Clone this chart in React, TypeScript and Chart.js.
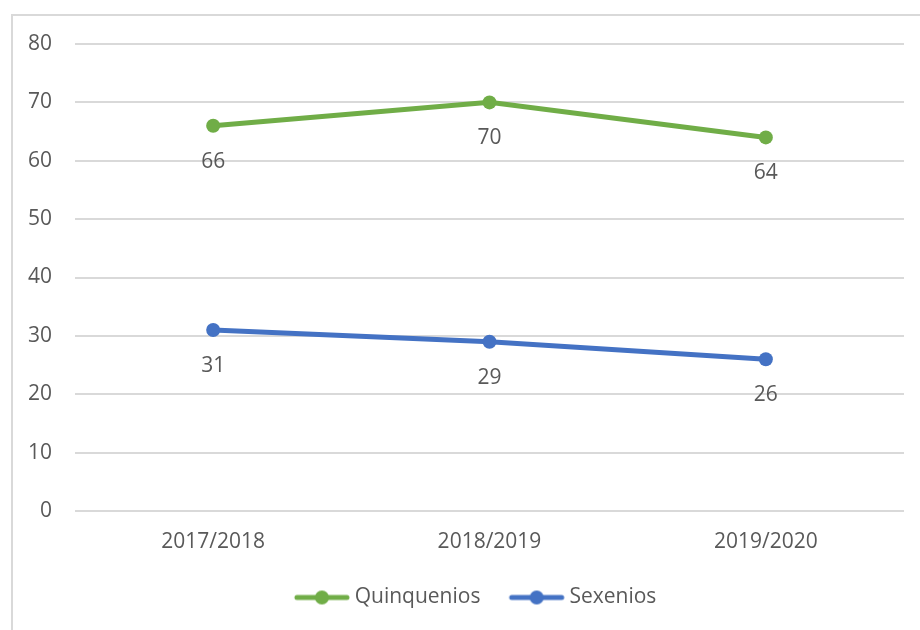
import React, { useEffect, useRef } from "react";
import { Chart, registerables } from "chart.js";

Chart.register(...registerables);

const categories = ["2017/2018", "2018/2019", "2019/2020"];
const quinquenios = [66, 70, 64];
const sexenios = [31, 29, 26];
const seriesNames = ["Quinquenios", "Sexenios"];
const yTicks = { min: 0, max: 80, step: 10 };

const GREEN = "#70AD47";
const BLUE = "#4472C4";
const TEXT = "#595959";
const GRID = "#D9D9D9";
const FONT = "'Open Sans', sans-serif";
const FS = 21;

function legendImage(color: string) {
  const c = document.createElement("canvas");
  c.width = 112;
  c.height = 16;
  const ctx = c.getContext("2d")!;
  ctx.strokeStyle = color;
  ctx.lineWidth = 5;
  ctx.lineCap = "round";
  ctx.beginPath();
  ctx.moveTo(43, 8);
  ctx.lineTo(93, 8);
  ctx.stroke();
  ctx.fillStyle = color;
  ctx.beginPath();
  ctx.arc(68, 8, 7, 0, Math.PI * 2);
  ctx.fill();
  return c;
}

const framePlugin = {
  id: "frame",
  beforeDraw(chart: any) {
    const ctx = chart.ctx;
    ctx.save();
    ctx.strokeStyle = GRID;
    ctx.lineWidth = 2;
    ctx.beginPath();
    ctx.moveTo(12, 640);
    ctx.lineTo(12, 15);
    ctx.lineTo(930, 15);
    ctx.stroke();
    ctx.restore();
  },
};

const legendShift = {
  id: "legendShift",
  afterLayout(chart: any) {
    if (chart.legend) {
      chart.legend.left += 4;
      chart.legend.right += 4;
    }
  },
};

const labelPlugin = {
  id: "valueLabels",
  afterDatasetsDraw(chart: any) {
    const ctx = chart.ctx;
    ctx.save();
    ctx.font = `${FS}px ${FONT}`;
    ctx.fillStyle = TEXT;
    ctx.textAlign = "center";
    ctx.textBaseline = "middle";
    chart.data.datasets.forEach((ds: any, i: number) => {
      const meta = chart.getDatasetMeta(i);
      meta.data.forEach((pt: any, j: number) => {
        ctx.fillText(String(ds.data[j]), pt.x, pt.y + 36);
      });
    });
    ctx.restore();
  },
};

export default function App() {
  const ref = useRef<HTMLCanvasElement>(null);
  useEffect(() => {
    const imgs = [legendImage(GREEN), legendImage(BLUE)];
    const chart = new Chart(ref.current!, {
      type: "line",
      data: {
        labels: categories,
        datasets: [
          {
            label: seriesNames[0],
            data: quinquenios,
            borderColor: GREEN,
            backgroundColor: GREEN,
            borderWidth: 5,
            pointRadius: 7,
            pointHoverRadius: 7,
            pointBackgroundColor: GREEN,
            pointBorderWidth: 0,
          },
          {
            label: seriesNames[1],
            data: sexenios,
            borderColor: BLUE,
            backgroundColor: BLUE,
            borderWidth: 5,
            pointRadius: 7,
            pointHoverRadius: 7,
            pointBackgroundColor: BLUE,
            pointBorderWidth: 0,
          },
        ],
      },
      options: {
        responsive: false,
        animation: false,
        layout: { padding: { left: 20, right: 16, top: 44, bottom: 12 } },
        scales: {
          x: {
            offset: true,
            grid: { display: false, drawTicks: false },
            border: { display: false },
            ticks: { color: TEXT, font: { family: FONT, size: FS }, padding: 18 },
            afterFit(scale: any) {
              scale.height = 66;
            },
          },
          y: {
            min: yTicks.min,
            max: yTicks.max,
            grid: { color: GRID, lineWidth: 2, drawTicks: false },
            border: { display: false },
            ticks: {
              stepSize: yTicks.step,
              color: TEXT,
              font: { family: FONT, size: FS },
              padding: 23,
            },
            afterFit(scale: any) {
              scale.width = 55;
            },
          },
        },
        plugins: {
          tooltip: { enabled: false },
          legend: {
            position: "bottom",
            labels: {
              usePointStyle: true,
              pointStyleWidth: 68.5,
              padding: 10,
              color: TEXT,
              font: { family: FONT, size: FS },
              generateLabels(chart: any) {
                return chart.data.datasets.map((ds: any, i: number) => ({
                  text: ds.label,
                  fillStyle: ds.borderColor,
                  strokeStyle: ds.borderColor,
                  lineWidth: 0,
                  pointStyle: imgs[i],
                  fontColor: TEXT,
                  hidden: false,
                  datasetIndex: i,
                }));
              },
            },
          },
        },
      },
      plugins: [framePlugin, legendShift, labelPlugin],
    });
    return () => chart.destroy();
  }, []);
  return (
    <div style={{ position: "fixed", left: 0, top: 0, width: 920, height: 630, background: "#fff" }}>
      <canvas ref={ref} width={920} height={630} />
    </div>
  );
}
